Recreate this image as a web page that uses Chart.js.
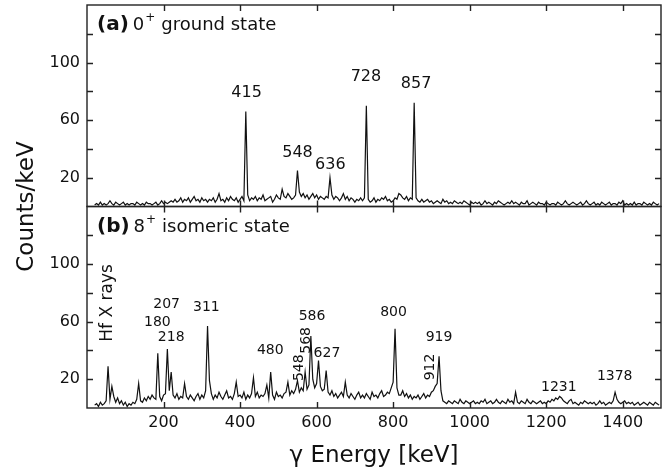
<!DOCTYPE html>
<html>
<head>
<meta charset="utf-8">
<script src="https://cdn.jsdelivr.net/npm/chart.js@4.4.1/dist/chart.umd.min.js"></script>
<style>
  html, body { margin: 0; padding: 0; background: #fff; }
  #wrap { width: 671px; height: 474px; position: relative; }
</style>
</head>
<body>
<div id="wrap"><canvas id="spektrum"></canvas></div>
<script>
// energi bin pertama dan lebar bin (keV)
const binAwal = 20;
const lebarBin = 5;

// (a) 0+ ground state, counts/keV per bin 5 keV, mulai 20 keV
const cacahGround = [
  1,2,1,3,1,2,1,2,4,2,1,3,2,1,2,3,1,2,1,2,
  2,1,3,2,1,2,1,3,2,2,1,2,3,1,2,4,2,3,2,3,
  4,3,5,3,4,6,3,5,4,6,3,5,7,4,5,3,6,4,5,3,
  5,4,6,3,5,9,4,5,3,6,4,7,5,4,6,3,5,7,4,66,
  8,4,6,5,7,4,6,5,8,4,5,6,7,3,5,8,6,5,12,7,
  6,9,7,5,6,8,25,10,7,9,6,8,5,7,9,6,8,5,7,6,
  5,7,6,20,8,5,7,6,4,6,9,5,7,4,6,5,3,5,4,6,
  4,6,70,5,3,4,6,3,5,4,6,5,7,4,5,3,4,6,5,9,
  8,6,5,7,4,6,5,72,6,4,3,5,3,4,5,3,4,2,3,4,
  3,2,5,3,4,2,3,2,4,3,2,3,2,4,3,2,1,3,2,3,
  2,3,1,2,4,2,3,2,1,3,2,4,3,2,1,2,3,2,4,2,
  3,2,1,3,2,2,4,1,2,3,2,1,3,2,2,1,3,2,1,2,
  2,1,3,2,1,2,4,2,1,2,3,2,1,2,3,1,2,4,2,1,
  2,3,1,2,1,3,2,1,2,3,1,2,2,1,3,2,4,1,2,1,
  2,1,3,1,2,2,1,3,2,1,2,1,3,2,1,2
];

// (b) 8+ isomeric state
const cacahIsomer = [
  2,3,1,4,2,3,5,29,6,15,8,4,7,3,5,2,4,1,3,2,
  4,3,6,17,5,4,7,5,8,6,9,7,6,38,8,5,9,10,41,12,
  25,9,7,10,6,8,7,17,8,6,9,7,5,8,10,6,9,7,12,57,
  19,10,6,9,7,11,8,6,9,12,7,8,6,10,18,8,9,7,11,6,
  9,7,10,21,8,11,7,9,8,10,16,7,25,9,6,11,8,9,7,10,
  11,18,9,12,10,13,19,11,14,12,25,13,16,50,20,14,17,33,15,12,
  13,26,11,9,12,8,10,7,9,11,8,18,9,7,10,8,6,9,11,7,
  9,7,10,8,6,11,8,9,7,10,12,8,9,11,10,14,18,55,14,9,
  9,12,8,10,7,9,6,8,7,9,6,8,10,7,9,8,11,12,15,17,
  36,12,5,4,3,5,4,3,5,4,3,6,4,3,5,4,3,4,5,3,
  4,3,5,4,6,3,4,5,3,4,6,4,3,5,4,3,6,4,5,3,
  11,4,3,5,4,3,6,4,3,5,4,3,4,5,3,4,3,5,4,6,
  5,7,6,8,7,5,4,3,5,6,3,4,3,2,4,3,5,4,3,4,
  3,4,2,3,5,3,4,2,3,4,3,5,11,6,4,3,4,5,3,4,
  3,4,2,3,4,2,3,4,3,2,4,3,2,4,3,2
];

// label puncak: [teks, energi, counts, rotasi]
const labelGround = [
  ["415", 417, 79, 0], ["548", 550, 37, 0], ["636", 636, 29, 0],
  ["728", 729, 90, 0], ["857", 860, 85, 0]
];
const labelIsomer = [
  ["Hf X rays", 54, 73, 1], ["207", 208, 72, 0], ["180", 184, 59.5, 0],
  ["218", 220, 49, 0], ["311", 312, 70, 0], ["480", 479, 40, 0],
  ["548", 555, 28, 1], ["568", 573, 47, 1], ["586", 588, 63.5, 0],
  ["627", 627, 38, 0], ["800", 801, 66.5, 0], ["919", 920, 49, 0],
  ["912", 896, 28.5, 1], ["1231", 1233, 14.6, 0], ["1378", 1379, 22.3, 0]
];

const tickX = [200, 400, 600, 800, 1000, 1200, 1400];
const tickY = [20, 40, 60, 80, 100, 120];
const labelTickY = [20, 60, 100];

const FONT = "'DejaVu Sans', sans-serif";

function keTitik(arr) {
  return arr.map((c, i) => ({ x: binAwal + i * lebarBin, y: c }));
}

// padding otomatis dari label dibuang supaya area plot pas
function rapatkan(s) {
  s.paddingTop = 0;
  s.paddingBottom = 0;
  s.paddingLeft = 0;
  s.paddingRight = 0;
}

const bingkaiPlugin = {
  id: 'bingkai',
  afterDatasetsDraw(chart) {
    const ctx = chart.ctx;
    const sx = chart.scales.x;
    ctx.save();
    ctx.strokeStyle = '#222';
    ctx.lineWidth = 1.4;
    ['ya', 'yb'].forEach(id => {
      const sy = chart.scales[id];
      ctx.strokeRect(sx.left, sy.top, sx.right - sx.left, sy.bottom - sy.top);
      ctx.beginPath();
      tickY.forEach(v => {
        const py = Math.round(sy.getPixelForValue(v)) + 0.5;
        ctx.moveTo(sx.left, py); ctx.lineTo(sx.left + 6, py);
        ctx.moveTo(sx.right, py); ctx.lineTo(sx.right - 6, py);
      });
      tickX.forEach(v => {
        const px = Math.round(sx.getPixelForValue(v)) + 0.5;
        ctx.moveTo(px, sy.top); ctx.lineTo(px, sy.top + 6);
        ctx.moveTo(px, sy.bottom); ctx.lineTo(px, sy.bottom - 6);
      });
      ctx.stroke();
    });

    // label puncak
    ctx.fillStyle = '#111';
    ctx.textAlign = 'center';
    ctx.textBaseline = 'middle';
    const tulis = (list, sy, size) => {
      list.forEach(([teks, e, c, rot]) => {
        const px = sx.getPixelForValue(e);
        const py = sy.getPixelForValue(c);
        ctx.save();
        ctx.font = `${teks.length > 4 ? 17 : size}px ${FONT}`;
        ctx.translate(px, py);
        if (rot) ctx.rotate(-Math.PI / 2);
        ctx.fillText(teks, 0, 0);
        ctx.restore();
      });
    };
    tulis(labelGround, chart.scales.ya, 16);
    tulis(labelIsomer, chart.scales.yb, 14);

    // judul panel
    const judulPanel = (sy, huruf, spin, sisa) => {
      let x = sx.left + 10;
      const y = sy.top + 25;
      ctx.textAlign = 'left';
      ctx.textBaseline = 'alphabetic';
      ctx.font = `bold 20px ${FONT}`;
      ctx.fillText(huruf, x, y);
      x += ctx.measureText(huruf).width + 4;
      ctx.font = `18px ${FONT}`;
      ctx.fillText(spin, x, y);
      x += ctx.measureText(spin).width + 1;
      ctx.font = `12px ${FONT}`;
      ctx.fillText("+", x, y - 9);
      x += ctx.measureText("+").width + 6;
      ctx.font = `18px ${FONT}`;
      ctx.fillText(sisa, x, y);
    };
    judulPanel(chart.scales.ya, "(a)", "0", "ground state");
    judulPanel(chart.scales.yb, "(b)", "8", "isomeric state");

    // judul sumbu y
    ctx.save();
    ctx.font = `23px ${FONT}`;
    ctx.textAlign = 'center';
    ctx.textBaseline = 'middle';
    ctx.translate(27, (chart.chartArea.top + chart.chartArea.bottom) / 2);
    ctx.rotate(-Math.PI / 2);
    ctx.fillText("Counts/keV", 0, 0);
    ctx.restore();
    ctx.restore();
  }
};

const sumbuY = () => ({
  type: 'linear',
  position: 'left',
  stack: 'panel',
  stackWeight: 1,
  min: 0,
  max: 140,
  grid: { display: false, drawTicks: false },
  border: { display: false },
  afterBuildTicks: s => { s.ticks = tickY.map(v => ({ value: v })); },
  afterFit: s => { s.width = 87; rapatkan(s); },
  ticks: {
    padding: 7,
    color: '#111',
    font: { size: 16, family: FONT },
    callback: v => labelTickY.includes(v) ? String(v) : ''
  }
});

new Chart(document.getElementById('spektrum'), {
  type: 'line',
  data: {
    datasets: [
      { data: keTitik(cacahGround), yAxisID: 'ya', borderColor: '#111', borderWidth: 1.2, pointRadius: 0, tension: 0 },
      { data: keTitik(cacahIsomer), yAxisID: 'yb', borderColor: '#111', borderWidth: 1.2, pointRadius: 0, tension: 0 }
    ]
  },
  options: {
    responsive: true,
    maintainAspectRatio: false,
    animation: false,
    devicePixelRatio: 1,
    layout: { padding: { top: 5, right: 10, left: 0, bottom: 0 } },
    plugins: { legend: { display: false }, tooltip: { enabled: false } },
    scales: {
      x: {
        type: 'linear',
        min: 0,
        max: 1500,
        grid: { display: false, drawTicks: false },
        border: { display: false },
        afterBuildTicks: s => { s.ticks = tickX.map(v => ({ value: v })); },
        afterFit: s => { s.height = 66; rapatkan(s); },
        ticks: {
          padding: 5,
          maxRotation: 0,
          autoSkip: false,
          color: '#111',
          font: { size: 16, family: FONT },
          callback: v => String(v)
        },
        title: {
          display: true,
          text: 'γ Energy [keV]',
          color: '#111',
          font: { size: 23, family: FONT },
          padding: { top: 0, bottom: 4 }
        }
      },
      yb: sumbuY(),
      ya: sumbuY()
    }
  },
  plugins: [bingkaiPlugin]
});
</script>
</body>
</html>
